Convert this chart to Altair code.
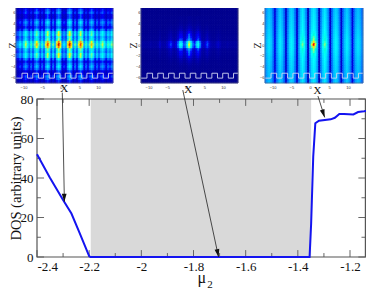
import altair as alt
import numpy as np
import pandas as pd

SERIF = "Liberation Serif"

# ---- main plot data ----
curve_x = [-2.4, -2.351, -2.3, -2.268, -2.236, -2.2, -2.195, -2.0, -1.8, -1.6, -1.4, -1.355, -1.349, -1.341,
           -1.333, -1.319, -1.274, -1.258, -1.241, -1.223, -1.187, -1.169, -1.146, -1.121, -1.114]
curve_y = [52, 40.3, 28.9, 22, 12, 0.5, 0, 0, 0, 0, 0, 0, 17, 50.8,
           67.7, 69, 69.7, 70.5, 72.4, 72.4, 72.2, 73.4, 73.8, 74.4, 74.5]
band_x = [-2.194]
band_x2 = [-1.349]
x_major = [-2.4, -2.2, -2.0, -1.8, -1.6, -1.4, -1.2]
x_minor = [-2.3, -2.1, -1.9, -1.7, -1.5, -1.3]
y_major = [0, 20, 40, 60, 80]
y_minor = [10, 30, 50, 70]
arrow_x1 = [-2.303, -1.841, -1.323]
arrow_y1 = [83.2, 84.5, 81.5]
arrow_x2 = [-2.295, -1.704, -1.297]
arrow_y2 = [28, 0, 70.7]
head_x = [-2.2955, -1.707, -1.302]
head_y = [30, 2, 72.6]
head_angle = [179, 168, 162]
xlabel_x = [-2.296, -1.82, -1.325]
xlabel_y = [85, 84.6, 84.1]

# ---- heat map data: column and row profiles ----
p1_col = [.22, .26, .36, .26, .42, .58, .42, .28, .46, .28, .52, .72, .52, .28, .46, .28, .62, .85, .62, .28, .5, .28, .68, .92, .68, .26,
          .36, .26, .68, .92, .68, .28, .5, .28, .62, .85, .62, .28, .46, .28, .52, .72, .52, .28, .46, .28, .46, .58, .42, .28, .46, .36, .52]
p1_row = [.16, .24, .3, .2, .2, .32, .42, .34, .26, .42, .66, .7, .55, .62, .88, 1,
          .88, .62, .55, .7, .66, .42, .26, .34, .42, .32, .2, .2, .3, .24, .16]
p2_col = [.02, .02, .02, .02, .02, .03, .02, .02, .02, .03, .07, .03, .03, .03, .06, .1, .15, .08, .06, .1, .2, .38, .36, .16, .2, .4,
          .62, .4, .2, .14, .3, .4, .22, .08, .06, .1, .16, .08, .04, .03, .03, .05, .07, .04, .02, .02, .02, .03, .02, .02, .02, .02, .02]
p2_row = [0, 0, 0, 0, .02, .02, .03, .05, .08, .12, .2, .28, .32, .4, .85, 1,
          .85, .4, .32, .28, .2, .12, .08, .05, .03, .02, .02, 0, 0, 0, 0]
p3_col = [.24, .3, .33, .3, .22, .1, .22, .3, .35, .3, .22, .08, .22, .32, .36, .32, .22, .08, .24, .34, .4, .34, .24, .06, .26, .36,
          .4, .36, .26, .06, .24, .34, .4, .34, .24, .08, .22, .32, .36, .32, .22, .08, .22, .3, .35, .3, .22, .1, .22, .3, .33, .3, .22]
p3_row = [.85, .85, .86, .87, .88, .89, .9, .91, .92, .94, .95, .97, .98, 1, 1, 1,
          1, 1, .98, .97, .95, .94, .92, .91, .9, .89, .88, .87, .86, .85, .85]
p3_spot_col = [0] * 19 + [.08, .12, .08] + [0, 0, .04, .25, .48, .25, .04, 0, 0] + [.08, .12, .08] + [0] * 19
p3_spot_row = [0] * 10 + [.05, .1, .2, .3, .55, 1, .55, .3, .2, .1, .05] + [0] * 10
wave_x = [-12, -10.4, -8.9, -7.5, -6, -4.6, -3.1, -1.7, -0.2, 1.2, 2.7, 4.1, 5.6, 7, 8.5, 9.9, 11.4, 12.8, 14]
wave_y = [-6.1, -5.2, -6.1, -5.2, -6.1, -5.2, -6.1, -5.2, -6.1, -5.2, -6.1, -5.2, -6.1, -5.2, -6.1, -5.2, -6.1, -5.2, -5.2]
heat_xticks = [-10, -5, 0, 5, 10]
heat_yticks = [-6, -4, -2, 0, 2, 4, 6]
jet_stops = [0, .125, .375, .625, .875, 1]
jet_colors = ["#00008f", "#0000ff", "#00ffff", "#ffff00", "#ff0000", "#800000"]
ARROW_SHAPE = "M -0.6 1 L 0 -1 L 0.6 1 Z"

W, H = 358, 281
HX = [-12, 14]
HY = [-7, 7]


def heat_frame(col, row, spot_col=None, spot_row=None):
    v = np.outer(row, col)
    if spot_col is not None:
        v = v + np.outer(spot_row, spot_col)
    nx, ny = len(col), len(row)
    xe = np.linspace(HX[0], HX[1], nx + 1)
    ye = np.linspace(HY[1], HY[0], ny + 1)
    rows = []
    for j in range(ny):
        for i in range(nx):
            rows.append((xe[i], xe[i + 1], ye[j + 1], ye[j], float(v[j, i])))
    return pd.DataFrame(rows, columns=["x", "x2", "y", "y2", "v"])


def heat_panel(df, xr, yr, left, zpad):
    xs = alt.Scale(domain=HX, range=xr, nice=False, zero=False)
    ys = alt.Scale(domain=HY, range=yr, nice=False, zero=False)
    ax = alt.Axis(values=heat_xticks, tickSize=0, domain=False, grid=False, title=None, orient="bottom",
                  offset=-(H - yr[0]), labelFontSize=4, labelColor="#333", labelPadding=2, labelFont="Liberation Sans")
    ay = alt.Axis(values=heat_yticks, tickSize=0, domain=False, grid=False, title="Z", orient="left",
                  offset=-left, labelFontSize=4, labelColor="#333", labelPadding=1, labelFont="Liberation Sans",
                  titleFont=SERIF, titleFontSize=10, titleFontWeight="normal", titlePadding=zpad, titleColor="#111")
    jet = alt.Scale(domain=jet_stops, range=jet_colors, clamp=True)
    cells = alt.Chart(df).mark_rect(strokeWidth=0.8).encode(
        x=alt.X("x:Q", scale=xs, axis=ax), x2="x2:Q",
        y=alt.Y("y:Q", scale=ys, axis=ay), y2="y2:Q",
        color=alt.Color("v:Q", scale=jet, legend=None),
        stroke=alt.Stroke("v:Q", scale=jet, legend=None),
    )
    wave = alt.Chart(pd.DataFrame({"x": wave_x, "y": wave_y})).mark_line(
        interpolate="step-after", color="#d0d4f0", strokeWidth=0.9).encode(
        x=alt.X("x:Q", scale=xs, axis=None), y=alt.Y("y:Q", scale=ys, axis=None), order=alt.Order("x:Q"))
    frame = alt.Chart(pd.DataFrame({"x": [HX[0]], "x2": [HX[1]], "y": [HY[0]], "y2": [HY[1]]})).mark_rect(
        fillOpacity=0, stroke="#667", strokeWidth=0.6).encode(
        x=alt.X("x:Q", scale=xs, axis=None), x2="x2:Q", y=alt.Y("y:Q", scale=ys, axis=None), y2="y2:Q")
    return [cells, wave, frame]


h1 = heat_panel(heat_frame(p1_col, p1_row), [8, 105], [75, -1], 8, -7)
h2 = heat_panel(heat_frame(p2_col, p2_row), [133, 230], [75, -1], 133, -3)
h3 = heat_panel(heat_frame(p3_col, p3_row, p3_spot_col, p3_spot_row), [257, 355], [75, -1], 257, -3)

# ---- main panel (page width ends the frame a little before the reference's) ----
MX = [-2.4, -1.141]
MY = [0, 80]
mxs = alt.Scale(domain=MX, range=[29, 357.4], nice=False, zero=False)
mys = alt.Scale(domain=MY, range=[249, 91], nice=False, zero=False)
X = lambda f="x:Q": alt.X(f, scale=mxs, axis=None)
Y = lambda f="y:Q": alt.Y(f, scale=mys, axis=None)

band = alt.Chart(pd.DataFrame({"x": band_x, "x2": band_x2, "y": [0], "y2": [80]})).mark_rect(
    color="#d9d9d9", strokeWidth=0).encode(
    x=alt.X("x:Q", scale=mxs, axis=alt.Axis(values=x_major, tickSize=0, domain=False, grid=False, title=None,
            orient="bottom", offset=-(H - 249), labelFont=SERIF, labelFontSize=13, labelColor="#111", labelPadding=3,
            labelExpr="'' + round(datum.value*10)/10")),
    x2="x2:Q",
    y=alt.Y("y:Q", scale=mys, axis=alt.Axis(values=y_major, tickSize=0, domain=False, grid=False,
            title="DOS (arbitrary units)", orient="left", offset=-29, labelFont=SERIF, labelFontSize=13,
            labelColor="#111", labelPadding=4, titleFont=SERIF, titleFontSize=14.5, titleFontWeight="normal",
            titleColor="#111", titlePadding=-3)),
    y2="y2:Q")

vt = []
for v, ln in [(v, 3.5) for v in x_major] + [(v, 2.0) for v in x_minor]:
    vt += [(v, 0, ln), (v, 80, 80 - ln)]
vticks = alt.Chart(pd.DataFrame(vt, columns=["x", "y", "y2"])).mark_rule(
    color="#666", strokeWidth=1).encode(x=X(), y=Y(), y2="y2:Q")
ht = []
for v, ln in [(v, .027) for v in y_major] + [(v, .015) for v in y_minor]:
    ht += [(MX[0], MX[0] + ln, v), (MX[1], MX[1] - ln, v)]
hticks = alt.Chart(pd.DataFrame(ht, columns=["x", "x2", "y"])).mark_rule(
    color="#666", strokeWidth=1).encode(x=X(), x2="x2:Q", y=Y())

line = alt.Chart(pd.DataFrame({"x": curve_x, "y": curve_y})).mark_line(color="#1414f0", strokeWidth=2).encode(
    x=X(), y=Y(), order=alt.Order("x:Q"))

frame = alt.Chart(pd.DataFrame({"x": [MX[0]], "x2": [MX[1]], "y": [0], "y2": [80]})).mark_rect(
    fillOpacity=0, stroke="#555", strokeWidth=1.2).encode(x=X(), x2="x2:Q", y=Y(), y2="y2:Q")

arrows = alt.Chart(pd.DataFrame({"x": arrow_x1, "x2": arrow_x2, "y": arrow_y1, "y2": arrow_y2})).mark_rule(
    color="#222", strokeWidth=0.8).encode(x=X(), x2="x2:Q", y=Y(), y2="y2:Q")
heads = alt.Chart(pd.DataFrame({"x": head_x, "y": head_y, "a": head_angle})).mark_point(
    shape=ARROW_SHAPE, filled=True, color="#111", opacity=1, size=64).encode(
    x=X(), y=Y(), angle=alt.Angle("a:Q", scale=None))
xlabels = alt.Chart(pd.DataFrame({"x": xlabel_x, "y": xlabel_y, "t": ["X", "X", "X"]})).mark_text(
    font=SERIF, fontSize=11, color="#111", baseline="middle").encode(x=X(), y=Y(), text="t:N")
mu = alt.Chart(pd.DataFrame({"x": [-1.768], "y": [-13], "t": ["\u03bc"]})).mark_text(
    font=SERIF, fontSize=16, color="#111", baseline="alphabetic").encode(x=X(), y=Y(), text="t:N")
sub = alt.Chart(pd.DataFrame({"x": [-1.737], "y": [-15.5], "t": ["2"]})).mark_text(
    font=SERIF, fontSize=11, color="#111", baseline="alphabetic").encode(x=X(), y=Y(), text="t:N")

parts = h1 + h2 + h3 + [band, vticks, hticks, frame, line, arrows, heads, xlabels, mu, sub]

chart = alt.layer(*parts).resolve_scale(x="independent", y="independent").properties(
    width=W, height=H, padding=0, autosize=alt.AutoSizeParams(type="none"), background="white"
).configure_view(stroke=None)

chart.save("out.html", embed_options={"renderer": "svg", "actions": False})
